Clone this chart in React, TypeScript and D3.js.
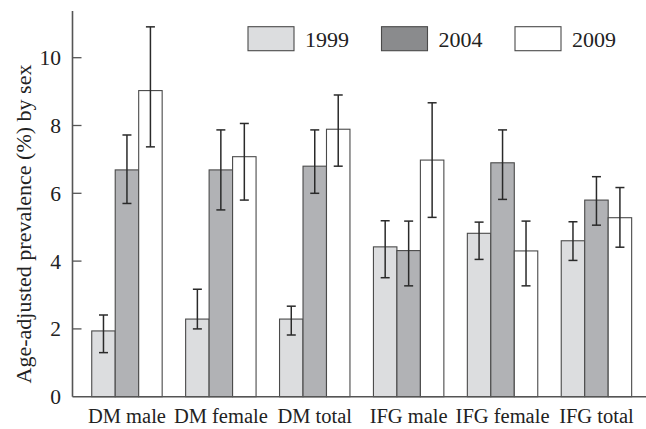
import React from "react";
import * as d3 from "d3";

const categories = ["DM male", "DM female", "DM total", "IFG male", "IFG female", "IFG total"];
const years = ["1999", "2004", "2009"];
const values1999 = [1.94, 2.29, 2.29, 4.42, 4.82, 4.6];
const lower1999 = [1.3, 2.0, 1.82, 3.51, 4.05, 4.02];
const upper1999 = [2.41, 3.17, 2.67, 5.19, 5.15, 5.16];
const values2004 = [6.69, 6.69, 6.8, 4.31, 6.9, 5.8];
const lower2004 = [5.7, 5.51, 6.0, 3.27, 5.82, 5.06];
const upper2004 = [7.72, 7.87, 7.87, 5.18, 7.87, 6.49];
const values2009 = [9.03, 7.08, 7.89, 6.98, 4.3, 5.28];
const lower2009 = [7.37, 5.8, 6.8, 5.29, 3.27, 4.41];
const upper2009 = [10.91, 8.06, 8.9, 8.67, 5.18, 6.17];
const yTicks = [0, 2, 4, 6, 8, 10];

const series = [
  { year: "1999", values: values1999, lower: lower1999, upper: upper1999 },
  { year: "2004", values: values2004, lower: lower2004, upper: upper2004 },
  { year: "2009", values: values2009, lower: lower2009, upper: upper2009 },
];

const W = 646;
const H = 429;
const fillBar: Record<string, string> = { "1999": "#dcdddf", "2004": "#b1b2b5", "2009": "#ffffff" };
const fillLegend: Record<string, string> = { "1999": "#dcdddf", "2004": "#8a8b8d", "2009": "#ffffff" };
const FONT = "'Liberation Serif', 'DejaVu Serif', serif";

export default function App() {
  const axisX = 72.5;
  const y = d3.scaleLinear().domain([0, 10]).range([396.7, 57.7]);
  const x0 = d3.scaleBand<string>().domain(categories).range([80, 643.4]).paddingInner(0.25).paddingOuter(0.125);
  const x1 = d3.scaleBand<string>().domain(years).range([0, x0.bandwidth()]);
  const legendX = d3.scalePoint<string>().domain(years).range([248, 515]);
  const capHalf = 4.5;

  return (
    <svg width={W} height={H} style={{ position: "absolute", left: 0, top: 0, background: "#fff" }} fontFamily={FONT}>
      {/* bars */}
      {series.map((s) =>
        categories.map((c, i) => {
          const bx = (x0(c) as number) + (x1(s.year) as number);
          return (
            <rect
              key={s.year + c}
              x={bx}
              y={y(s.values[i])}
              width={x1.bandwidth()}
              height={y(0) - y(s.values[i])}
              fill={fillBar[s.year]}
              stroke="#4a4a4a"
              strokeWidth={1.1}
            />
          );
        })
      )}
      {/* error bars */}
      {series.map((s) =>
        categories.map((c, i) => {
          const cx = (x0(c) as number) + (x1(s.year) as number) + x1.bandwidth() / 2;
          return (
            <g key={"e" + s.year + c} stroke="#2a2a2a" strokeWidth={1.5}>
              <line x1={cx} x2={cx} y1={y(s.lower[i])} y2={y(s.upper[i])} />
              <line x1={cx - capHalf} x2={cx + capHalf} y1={y(s.upper[i])} y2={y(s.upper[i])} />
              <line x1={cx - capHalf} x2={cx + capHalf} y1={y(s.lower[i])} y2={y(s.lower[i])} />
            </g>
          );
        })
      )}
      {/* axes */}
      <line x1={axisX} x2={axisX} y1={11} y2={y(0)} stroke="#555" strokeWidth={1.6} />
      <line x1={axisX} x2={W} y1={y(0)} y2={y(0)} stroke="#555" strokeWidth={1.6} />
      {yTicks.map((t) => (
        <g key={"t" + t}>
          {t > 0 && <line x1={axisX} x2={axisX + 9} y1={y(t)} y2={y(t)} stroke="#555" strokeWidth={1.3} />}
          <text x={61} y={y(t)} dy="0.35em" textAnchor="end" fontSize={21.5} fill="#222">
            {t}
          </text>
        </g>
      ))}
      {categories.map((c) => (
        <text
          key={"c" + c}
          x={(x0(c) as number) + x0.bandwidth() / 2}
          y={423}
          textAnchor="middle"
          fontSize={20.5}
          fill="#222"
        >
          {c}
        </text>
      ))}
      <text
        transform={`translate(31,224) rotate(-90)`}
        textAnchor="middle"
        fontSize={22}
        fill="#222"
      >
        Age-adjusted prevalence (%) by sex
      </text>
      {/* legend */}
      {years.map((yr) => {
        const lx = legendX(yr) as number;
        return (
          <g key={"l" + yr}>
            <rect x={lx} y={26.7} width={46} height={24} fill={fillLegend[yr]} stroke="#4a4a4a" strokeWidth={1.1} />
            <text x={lx + 57} y={46.5} fontSize={22} fill="#222">
              {yr}
            </text>
          </g>
        );
      })}
    </svg>
  );
}
